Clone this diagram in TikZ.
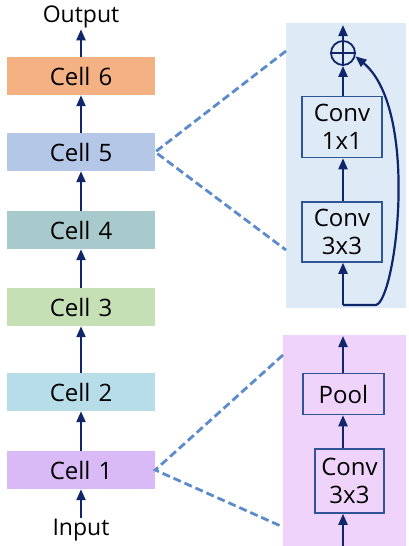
\documentclass[tikz,border=0pt]{standalone}
\usepackage{fontspec}
\setmainfont{Open Sans}
\usetikzlibrary{arrows.meta}

\definecolor{cellsix}{HTML}{F4B183}
\definecolor{cellfive}{HTML}{B4C7E7}
\definecolor{cellfour}{HTML}{A8CACD}
\definecolor{cellthree}{HTML}{C5E0B4}
\definecolor{celltwo}{HTML}{B7DEE8}
\definecolor{cellone}{HTML}{D9B9F6}
\definecolor{resbg}{HTML}{DEEBF7}
\definecolor{redbg}{HTML}{EFD3FB}
\definecolor{navy}{HTML}{10266B}
\definecolor{boxline}{HTML}{2F5597}
\definecolor{zoomline}{HTML}{5A8BCB}

\tikzset{
  cell/.style={minimum width=148, minimum height=38, inner sep=0pt, font=\fontsize{24}{27}\selectfont},
  opbox/.style={draw=boxline, line width=1.5pt, align=center, inner sep=0pt, font=\fontsize{24}{28}\selectfont},
  flow/.style={navy, line width=2.2pt, -{Triangle[length=11pt,width=9pt]}},
  zoomto/.style={zoomline, line width=2.8pt, dash pattern=on 8pt off 4pt}
}

\begin{document}
\begin{tikzpicture}[x=1pt,y=-1pt]
    \useasboundingbox (0,0) rectangle (408,546);

    % Define the positions of the cells
    \coordinate (c6Pos) at (81, 76);
    \coordinate (c5Pos) at (81, 152);
    \coordinate (c4Pos) at (81, 230);
    \coordinate (c3Pos) at (81, 307);
    \coordinate (c2Pos) at (81, 392);
    \coordinate (c1Pos) at (81, 470);

    % Draw the cells
    \node[cell, fill=cellsix] (cell6) at (c6Pos) {Cell\,\,6};
    \node[cell, fill=cellfive] (cell5) at (c5Pos) {Cell\,\,5};
    \node[cell, fill=cellfour] (cell4) at (c4Pos) {Cell\,\,4};
    \node[cell, fill=cellthree] (cell3) at (c3Pos) {Cell\,\,3};
    \node[cell, fill=celltwo] (cell2) at (c2Pos) {Cell\,\,2};
    \node[cell, fill=cellone] (cell1) at (c1Pos) {Cell\,\,1};
    \node[font=\fontsize{23}{26}\selectfont, inner sep=1pt] (output) at (81, 17) {Output};
    \node[font=\fontsize{23}{26}\selectfont, inner sep=1pt] (input) at (81, 530) {Input};

    % Draw the arrows between the cells
    \draw[flow] (cell1.north) -- (cell2.south);
    \draw[flow] (cell2.north) -- (cell3.south);
    \draw[flow] (cell3.north) -- (cell4.south);
    \draw[flow] (cell4.north) -- (cell5.south);
    \draw[flow] (cell5.north) -- (cell6.south);
    \draw[flow] (cell6.north) -- (output.south);
    \draw[flow] (input.north) -- (cell1.south);

    % Draw the two panels
    \fill[resbg] (286, 23) rectangle (406, 308);
    \fill[redbg] (283, 335) rectangle (406, 546);

    % Upper panel
    \node[draw=navy, line width=1.8pt, circle, minimum size=24, inner sep=0pt] (plus) at (343, 53) {};
    \draw[navy, line width=1.8pt] (plus.north) -- (plus.south) (plus.west) -- (plus.east);
    \node[opbox, minimum width=80, minimum height=61] (conv1) at (342, 127) {Conv\\1x1};
    \node[opbox, minimum width=80, minimum height=60] (conv3) at (342, 232) {Conv\\3x3};
    \coordinate (resIn) at (343, 305);
    \coordinate (resTurn) at (376, 305);
    \coordinate (resOut) at (343, 25);
    \draw[flow] (resIn) -- (conv3.south -| resIn);
    \draw[flow] (conv3.north -| resIn) -- (conv1.south -| resIn);
    \draw[flow] (conv1.north -| resIn) -- (plus.south);
    \draw[flow] (plus.north) -- (resOut);
    \draw[flow] (resIn) -- (resTurn) .. controls (396, 300) and (420, 110) .. (plus.-15);

    % Lower panel
    \node[opbox, minimum width=81, minimum height=41] (pool) at (343.5, 394) {Pool};
    \node[opbox, minimum width=69, minimum height=64] (pconv) at (349.5, 481) {Conv\\3x3};
    \coordinate (redIn) at (343, 546);
    \coordinate (redOut) at (343, 336);
    \draw[flow] (redIn) -- (pconv.south -| redIn);
    \draw[flow] (pconv.north -| redIn) -- (pool.south -| redIn);
    \draw[flow] (pool.north -| redIn) -- (redOut);

    % Draw the zoom lines
    \draw[zoomto] (286, 51) -- (cell5.east) -- (286, 250);
    \draw[zoomto] (283, 355) -- (cell1.east) -- (283, 527);
\end{tikzpicture}
\end{document}
